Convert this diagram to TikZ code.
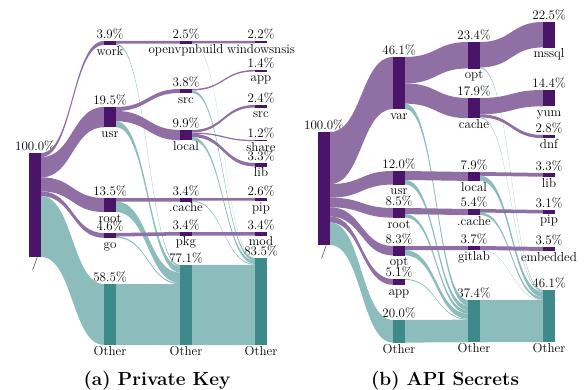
\documentclass[tikz,border=0pt]{standalone}
\usetikzlibrary{calc}

\definecolor{barpurple}{RGB}{74,21,104}
\definecolor{flowpurple}{RGB}{143,111,164}
\definecolor{barteal}{RGB}{62,138,138}
\definecolor{flowteal}{RGB}{141,188,189}

% one column block: name, x, top y, share in %, style, upper and lower text
\newcommand{\sknode}[7]{%
  \node[#5, minimum height={#4*\pxpct*1pt}] (#1) at (#2,#3) {};
  \node[toplbl] (#1-t) at ($(#1.north)+(0,-2.5)$) {#6};
  \node[botlbl] (#1-b) at ($(#1.south)+(0,10)$) {#7};}

% band between two blocks: from, offset in from, to, offset in to, share, style
\newcommand{\skflow}[6]{%
  \fill[#6] ($(#1.north east)+(0,{#2*\pxpct})$)
    .. controls +(31.5,0) and +(-31.5,0) .. ($(#3.north west)+(0,{#4*\pxpct})$)
    -- ++(0,{#5*\pxpct})
    .. controls +(-31.5,0) and +(31.5,0) .. ($(#1.north east)+(0,{(#2+#5)*\pxpct})$)
    -- cycle;}

\begin{document}
\begin{tikzpicture}[x=1pt,y=-1pt,
    pbar/.style={rectangle,inner sep=0pt,minimum width=12pt,anchor=north,fill=barpurple},
    tbar/.style={pbar,fill=barteal},
    pflow/.style={fill=flowpurple},
    tflow/.style={fill=flowteal},
    toplbl/.style={anchor=base,inner sep=0pt,font=\fontsize{13}{15}\selectfont},
    botlbl/.style={toplbl},
    caption/.style={anchor=base,inner sep=0pt,font=\bfseries\fontsize{19}{22}\selectfont}]
\useasboundingbox (0,0) rectangle (585,390);

% (a) private key
\def\pxpct{1.04}
\sknode{a0}{35}{153}{100}{pbar}{100.0\%}{/}
\sknode{a1work}{110}{41}{3.9}{pbar}{3.9\%}{work}
\sknode{a1usr}{110}{107}{19.5}{pbar}{19.5\%}{usr}
\sknode{a1root}{110}{198}{13.5}{pbar}{13.5\%}{root}
\sknode{a1go}{110}{233}{4.6}{pbar}{4.6\%}{go}
\sknode{a1oth}{110}{284}{58.5}{tbar}{58.5\%}{Other}
\sknode{a2ovpn}{186}{41}{2.5}{pbar}{2.5\%}{openvpnbuild}
\sknode{a2src}{186}{89}{3.8}{pbar}{3.8\%}{src}
\sknode{a2local}{186}{130}{9.9}{pbar}{9.9\%}{local}
\sknode{a2cache}{186}{198}{3.4}{pbar}{3.4\%}{.cache}
\sknode{a2pkg}{186}{232}{3.4}{pbar}{3.4\%}{pkg}
\sknode{a2oth}{186}{265}{77.1}{tbar}{77.1\%}{Other}
\sknode{a3win}{261}{41}{2.2}{pbar}{2.2\%}{windowsnsis}
\sknode{a3app}{261}{70}{1.4}{pbar}{1.4\%}{app}
\sknode{a3src}{261}{105}{2.4}{pbar}{2.4\%}{src}
\sknode{a3share}{261}{140}{1.2}{pbar}{1.2\%}{share}
\sknode{a3lib}{261}{163}{3.3}{pbar}{3.3\%}{lib}
\sknode{a3pip}{261}{198}{2.6}{pbar}{2.6\%}{pip}
\sknode{a3mod}{261}{232}{3.4}{pbar}{3.4\%}{mod}
\sknode{a3oth}{261}{258}{83.5}{tbar}{83.5\%}{Other}

\skflow{a0}{41.5}{a1oth}{0}{58.5}{tflow}
\skflow{a1work}{2.5}{a2oth}{0}{1.4}{tflow}
\skflow{a1usr}{13.7}{a2oth}{1.4}{5.8}{tflow}
\skflow{a1root}{3.4}{a2oth}{7.2}{10.1}{tflow}
\skflow{a1go}{3.4}{a2oth}{17.3}{1.2}{tflow}
\skflow{a1oth}{0}{a2oth}{18.5}{58.5}{tflow}
\skflow{a2ovpn}{2.2}{a3oth}{0}{0.3}{tflow}
\skflow{a2src}{1.4}{a3oth}{0.3}{2.4}{tflow}
\skflow{a2local}{6.9}{a3oth}{2.7}{3.0}{tflow}
\skflow{a2cache}{2.6}{a3oth}{5.7}{0.8}{tflow}
\skflow{a2oth}{0}{a3oth}{6.5}{77.1}{tflow}

\skflow{a0}{0}{a1work}{0}{3.9}{pflow}
\skflow{a0}{3.9}{a1usr}{0}{19.5}{pflow}
\skflow{a0}{23.4}{a1root}{0}{13.5}{pflow}
\skflow{a0}{36.9}{a1go}{0}{4.6}{pflow}
\skflow{a1work}{0}{a2ovpn}{0}{2.5}{pflow}
\skflow{a1usr}{0}{a2src}{0}{3.8}{pflow}
\skflow{a1usr}{3.8}{a2local}{0}{9.9}{pflow}
\skflow{a1root}{0}{a2cache}{0}{3.4}{pflow}
\skflow{a1go}{0}{a2pkg}{0}{3.4}{pflow}
\skflow{a2ovpn}{0}{a3win}{0}{2.2}{pflow}
\skflow{a2src}{0}{a3app}{0}{1.4}{pflow}
\skflow{a2local}{0}{a3src}{0}{2.4}{pflow}
\skflow{a2local}{2.4}{a3share}{0}{1.2}{pflow}
\skflow{a2local}{3.6}{a3lib}{0}{3.3}{pflow}
\skflow{a2cache}{0}{a3pip}{0}{2.6}{pflow}
\skflow{a2pkg}{0}{a3mod}{0}{3.4}{pflow}

% (b) API secrets
\def\pxpct{1.13}
\sknode{b0}{324}{132}{100}{pbar}{100.0\%}{/}
\sknode{b1var}{399}{57}{46.1}{pbar}{46.1\%}{var}
\sknode{b1usr}{399}{171}{12.0}{pbar}{12.0\%}{usr}
\sknode{b1root}{399}{208}{8.5}{pbar}{8.5\%}{root}
\sknode{b1opt}{399}{246}{8.3}{pbar}{8.3\%}{opt}
\sknode{b1app}{399}{279}{5.1}{pbar}{5.1\%}{app}
\sknode{b1oth}{399}{320}{20.0}{tbar}{20.0\%}{Other}
\sknode{b2opt}{474}{42}{23.4}{pbar}{23.4\%}{opt}
\sknode{b2cache}{474}{98}{17.9}{pbar}{17.9\%}{cache}
\sknode{b2local}{474}{172}{7.9}{pbar}{7.9\%}{local}
\sknode{b2dcache}{474}{209}{5.4}{pbar}{5.4\%}{.cache}
\sknode{b2gitlab}{474}{246}{3.7}{pbar}{3.7\%}{gitlab}
\sknode{b2oth}{474}{300}{37.4}{tbar}{37.4\%}{Other}
\sknode{b3mssql}{549}{22}{22.5}{pbar}{22.5\%}{mssql}
\sknode{b3yum}{549}{90}{14.4}{pbar}{14.4\%}{yum}
\sknode{b3dnf}{549}{135}{2.8}{pbar}{2.8\%}{dnf}
\sknode{b3lib}{549}{173}{3.3}{pbar}{3.3\%}{lib}
\sknode{b3pip}{549}{210}{3.1}{pbar}{3.1\%}{pip}
\sknode{b3emb}{549}{247}{3.5}{pbar}{3.5\%}{embedded}
\sknode{b3oth}{549}{290}{46.1}{tbar}{46.1\%}{Other}

\skflow{b0}{80.0}{b1oth}{0}{20.0}{tflow}
\skflow{b1var}{41.3}{b2oth}{0}{4.8}{tflow}
\skflow{b1usr}{7.9}{b2oth}{4.8}{4.1}{tflow}
\skflow{b1root}{5.4}{b2oth}{8.9}{3.1}{tflow}
\skflow{b1opt}{3.7}{b2oth}{12.0}{4.6}{tflow}
\skflow{b1app}{0}{b2oth}{16.6}{0.8}{tflow}
\skflow{b1oth}{0}{b2oth}{17.4}{20.0}{tflow}
\skflow{b2opt}{22.5}{b3oth}{0}{0.9}{tflow}
\skflow{b2cache}{17.2}{b3oth}{0.9}{0.7}{tflow}
\skflow{b2local}{3.3}{b3oth}{1.6}{4.6}{tflow}
\skflow{b2dcache}{3.1}{b3oth}{6.2}{2.3}{tflow}
\skflow{b2gitlab}{3.5}{b3oth}{8.5}{0.2}{tflow}
\skflow{b2oth}{0}{b3oth}{8.7}{37.4}{tflow}

\skflow{b0}{0}{b1var}{0}{46.1}{pflow}
\skflow{b0}{46.1}{b1usr}{0}{12.0}{pflow}
\skflow{b0}{58.1}{b1root}{0}{8.5}{pflow}
\skflow{b0}{66.6}{b1opt}{0}{8.3}{pflow}
\skflow{b0}{74.9}{b1app}{0}{5.1}{pflow}
\skflow{b1var}{0}{b2opt}{0}{23.4}{pflow}
\skflow{b1var}{23.4}{b2cache}{0}{17.9}{pflow}
\skflow{b1usr}{0}{b2local}{0}{7.9}{pflow}
\skflow{b1root}{0}{b2dcache}{0}{5.4}{pflow}
\skflow{b1opt}{0}{b2gitlab}{0}{3.7}{pflow}
\skflow{b2opt}{0}{b3mssql}{0}{22.5}{pflow}
\skflow{b2cache}{0}{b3yum}{0}{14.4}{pflow}
\skflow{b2cache}{14.4}{b3dnf}{0}{2.8}{pflow}
\skflow{b2local}{0}{b3lib}{0}{3.3}{pflow}
\skflow{b2dcache}{0}{b3pip}{0}{3.1}{pflow}
\skflow{b2gitlab}{0}{b3emb}{0}{3.5}{pflow}

\node[caption] (capa) at (157,385) {(a) Private Key};
\node[caption] (capb) at (445,385) {(b) API Secrets};
\end{tikzpicture}
\end{document}
